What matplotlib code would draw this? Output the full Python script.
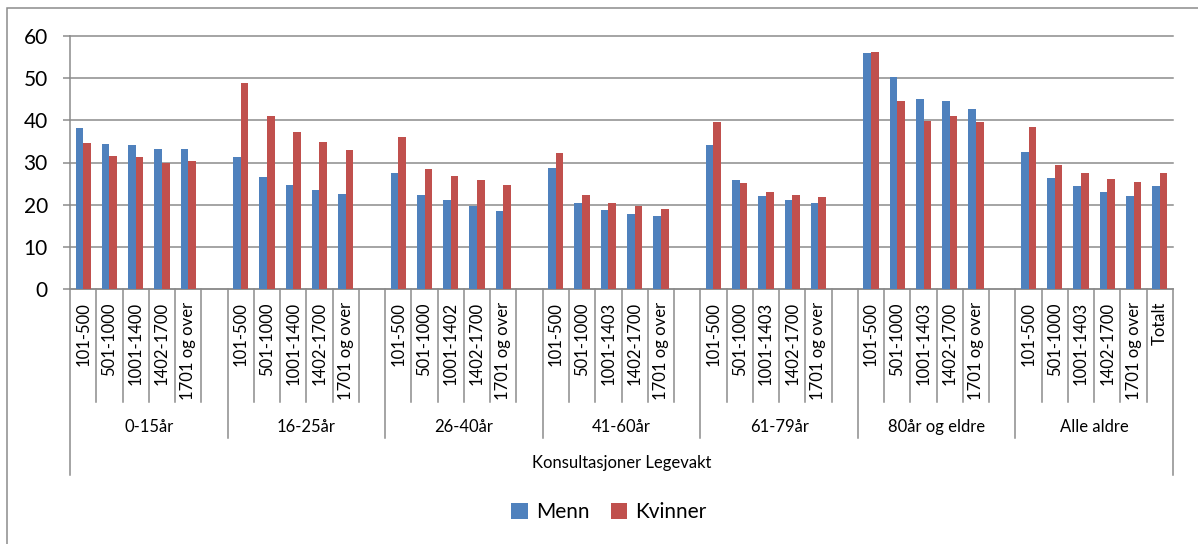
import matplotlib.pyplot as plt
import matplotlib.patches as mpatches
import numpy as np

plt.rcParams['font.family'] = ['Lato', 'DejaVu Sans']

groups = ["0-15år", "16-25år", "26-40år", "41-60år", "61-79år", "80år og eldre", "Alle aldre"]
sub_labels = [
    ["101-500", "501-1000", "1001-1400", "1402-1700", "1701 og over", ""],
    ["101-500", "501-1000", "1001-1400", "1402-1700", "1701 og over", ""],
    ["101-500", "501-1000", "1001-1402", "1402-1700", "1701 og over", ""],
    ["101-500", "501-1000", "1001-1403", "1402-1700", "1701 og over", ""],
    ["101-500", "501-1000", "1001-1403", "1402-1700", "1701 og over", ""],
    ["101-500", "501-1000", "1001-1403", "1402-1700", "1701 og over", ""],
    ["101-500", "501-1000", "1001-1403", "1402-1700", "1701 og over", "Totalt"],
]
outer_label = "Konsultasjoner Legevakt"

menn = [
    [38.2, 34.3, 34.1, 33.1, 33.2, np.nan],
    [31.2, 26.5, 24.6, 23.5, 22.6, np.nan],
    [27.5, 22.4, 21.2, 19.6, 18.6, np.nan],
    [28.8, 20.4, 18.8, 17.7, 17.2, np.nan],
    [34.2, 25.8, 22.0, 21.2, 20.4, np.nan],
    [56.0, 50.2, 45.0, 44.5, 42.6, np.nan],
    [32.5, 26.4, 24.5, 23.1, 22.1, 24.5],
]
kvinner = [
    [34.7, 31.5, 31.3, 30.0, 30.3, np.nan],
    [48.8, 41.1, 37.3, 34.8, 33.0, np.nan],
    [36.1, 28.4, 26.9, 25.8, 24.6, np.nan],
    [32.2, 22.4, 20.4, 19.7, 18.9, np.nan],
    [39.6, 25.2, 23.0, 22.2, 21.7, np.nan],
    [56.2, 44.7, 39.8, 41.1, 39.5, np.nan],
    [38.5, 29.5, 27.4, 26.2, 25.4, 27.6],
]

BLUE = '#4F81BD'
RED = '#C0504D'
GRAY = '#8c8c8c'

W, H = 1198, 544
fig = plt.figure(figsize=(W / 100, H / 100), dpi=100)

# plot area in pixel terms
x0, x1, y_top, y_bot = 70, 1173, 36, 289
ax = fig.add_axes([x0 / W, 1 - y_bot / H, (x1 - x0) / W, (y_bot - y_top) / H])


def fy(px):
    # pixel row -> axes fraction (for stuff drawn under the category axis)
    return (y_bot - px) / (y_bot - y_top)


n_slots = sum(len(s) for s in sub_labels)
slots = np.arange(n_slots) + 0.5
m_vals = np.concatenate(menn)
k_vals = np.concatenate(kvinner)

bw = 0.29
ax.bar(slots - bw / 2, m_vals, bw, color=BLUE, label='Menn', zorder=3)
ax.bar(slots + bw / 2, k_vals, bw, color=RED, label='Kvinner', zorder=3)

ax.set_xlim(0, n_slots)
ax.set_ylim(0, 60)
ax.set_yticks(np.arange(0, 61, 10))
ax.tick_params(axis='y', length=5, width=1.1, color=GRAY, pad=11, labelsize=15)
ax.set_xticks([])
ax.yaxis.grid(True, color=GRAY, linewidth=1.1, zorder=0)
for gl in ax.get_ygridlines():
    gl.set_clip_on(False)
ax.set_axisbelow(True)
for s in ['top', 'right']:
    ax.spines[s].set_visible(False)
for s in ['left', 'bottom']:
    ax.spines[s].set_color(GRAY)
    ax.spines[s].set_linewidth(1.1)

# multi-level category axis
tr = ax.get_xaxis_transform()
line_kw = dict(color=GRAY, linewidth=1.1, transform=tr, clip_on=False)
pos = 0
group_edges = [0]
for g, subs in enumerate(sub_labels):
    for j, lab in enumerate(subs):
        if lab:
            ax.text(pos + j + 0.5, fy(302), lab, rotation=90, ha='center', va='top',
                    fontsize=12, transform=tr, clip_on=False)
    ax.text(pos + len(subs) / 2, fy(427), groups[g], ha='center', va='center',
            fontsize=12, transform=tr)
    for j in range(1, len(subs)):
        ax.plot([pos + j, pos + j], [0, fy(402)], **line_kw)
    pos += len(subs)
    group_edges.append(pos)

for e in group_edges[1:-1]:
    ax.plot([e, e], [0, fy(438)], **line_kw)
for e in (group_edges[0], group_edges[-1]):
    ax.plot([e, e], [0, fy(475)], **line_kw)
ax.text(n_slots / 2, fy(463), outer_label, ha='center', va='center', fontsize=12,
        transform=tr)

fig.legend(loc='center', bbox_to_anchor=(609 / W, 1 - 512 / H), ncol=2, frameon=False,
           fontsize=15, handlelength=0.8, handleheight=0.8, handletextpad=0.4,
           columnspacing=1.0)

# chart area border
fig.patches.append(mpatches.Rectangle((7 / W, -0.05), 1.1, 1.05 - 8 / H, fill=False,
                                      edgecolor=GRAY, linewidth=1.1,
                                      transform=fig.transFigure, figure=fig))

fig.savefig('out.png', dpi=100)
